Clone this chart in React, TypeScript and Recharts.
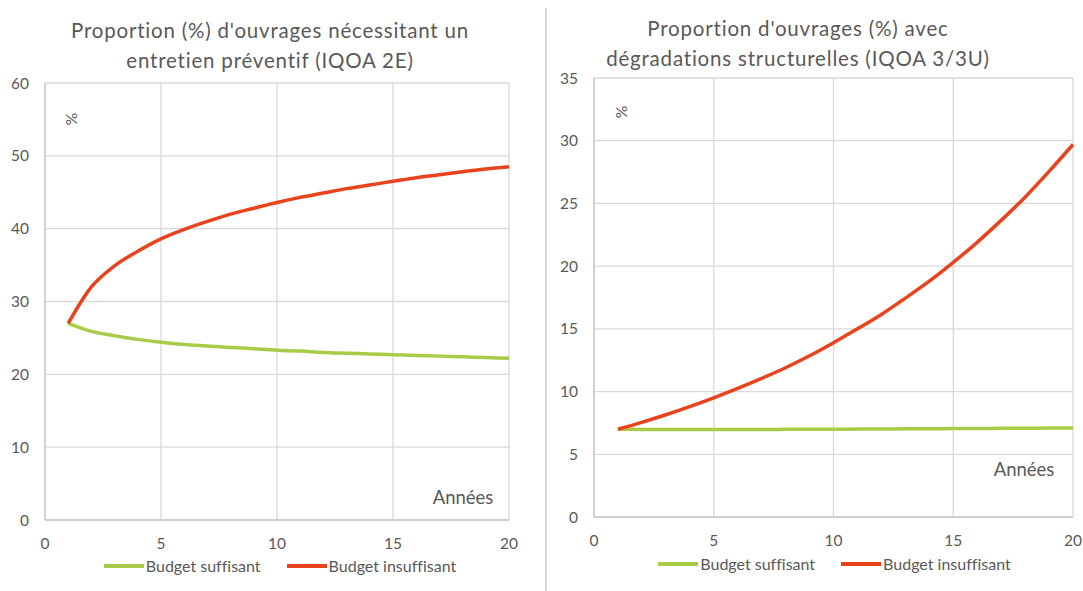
import React from 'react';
import { LineChart, Line, XAxis, YAxis, CartesianGrid, Legend } from 'recharts';

const years = [1, 2, 3, 4, 5, 6, 7, 8, 9, 10, 11, 12, 13, 14, 15, 16, 17, 18, 19, 20];
const leftSuffisant = [27.0, 25.9, 25.3, 24.8, 24.4, 24.1, 23.9, 23.7, 23.5, 23.3, 23.2, 23.0, 22.9, 22.8, 22.7, 22.6, 22.5, 22.4, 22.3, 22.2];
const leftInsuffisant = [27.0, 32.0, 34.9, 36.9, 38.6, 39.9, 41.0, 42.0, 42.8, 43.6, 44.3, 44.9, 45.5, 46.0, 46.5, 47.0, 47.4, 47.8, 48.2, 48.5];
const rightSuffisant = [7.0, 6.98, 6.97, 6.97, 6.97, 6.98, 6.98, 6.99, 7.0, 7.0, 7.01, 7.02, 7.03, 7.04, 7.05, 7.06, 7.07, 7.08, 7.09, 7.1];
const rightInsuffisant = [7.0, 7.55, 8.15, 8.8, 9.5, 10.25, 11.05, 11.9, 12.85, 13.9, 15.0, 16.15, 17.45, 18.8, 20.3, 21.9, 23.65, 25.5, 27.55, 29.7];

const xTicks = [0, 5, 10, 15, 20];
const leftYTicks = [0, 10, 20, 30, 40, 50, 60];
const rightYTicks = [0, 5, 10, 15, 20, 25, 30, 35];
const seriesNames = ['Budget suffisant', 'Budget insuffisant'];
const leftTitle = ["Proportion (%) d'ouvrages nécessitant un", 'entretien préventif (IQOA 2E)'];
const rightTitle = ["Proportion d'ouvrages (%) avec", 'dégradations structurelles (IQOA 3/3U)'];
const yUnit = '%';
const xUnit = 'Années';

const GREEN = '#a8cc48';
const RED = '#e8431c';
const TEXT = '#595959';
const GRID = '#d9d9d9';
const FONT = 'Lato, "Open Sans", sans-serif';

const leftData = years.map((y, i) => ({ year: y, suffisant: leftSuffisant[i], insuffisant: leftInsuffisant[i] }));
const rightData = years.map((y, i) => ({ year: y, suffisant: rightSuffisant[i], insuffisant: rightInsuffisant[i] }));

const tickStyle = { fill: TEXT, fontSize: 15.5, fontFamily: FONT };

const renderLegend = () => (
  <div
    style={{
      display: 'flex',
      justifyContent: 'center',
      fontFamily: FONT,
      fontSize: 16,
      color: TEXT,
      lineHeight: '18px',
      fontVariantLigatures: 'none',
    }}
  >
    {seriesNames.map((name, i) => (
      <div key={name} style={{ display: 'flex', alignItems: 'center', marginLeft: i === 0 ? 0 : 26 }}>
        <svg width={40} height={6} style={{ display: 'block' }}>
          <line x1={0} y1={3} x2={40} y2={3} stroke={i === 0 ? GREEN : RED} strokeWidth={4} />
        </svg>
        <span style={{ marginLeft: 2 }}>{name}</span>
      </div>
    ))}
  </div>
);

type PanelProps = {
  data: { year: number; suffisant: number; insuffisant: number }[];
  yTicks: number[];
  width: number;
  yAxisWidth: number;
  margin: { top: number; right: number; bottom: number; left: number };
  legendTop: number;
  legendLeft: number;
  legendWidth: number;
};

const Panel = ({ data, yTicks, width, yAxisWidth, margin, legendTop, legendLeft, legendWidth }: PanelProps) => (
  <LineChart width={width} height={591} data={data} margin={margin}>
    <CartesianGrid stroke={GRID} strokeWidth={1.3} />
    <XAxis
      dataKey="year"
      type="number"
      domain={[0, 20]}
      ticks={xTicks}
      interval={0}
      height={30}
      tickLine={false}
      axisLine={{ stroke: '#c6c6c6', strokeWidth: 1.6 }}
      tick={tickStyle}
      tickMargin={12}
    />
    <YAxis
      type="number"
      domain={[yTicks[0], yTicks[yTicks.length - 1]]}
      ticks={yTicks}
      interval={0}
      width={yAxisWidth}
      tickLine={false}
      axisLine={{ stroke: '#c6c6c6', strokeWidth: 1.3 }}
      tick={tickStyle}
      tickMargin={10}
    />
    <Legend
      verticalAlign="middle"
      align="center"
      layout="horizontal"
      content={renderLegend}
      wrapperStyle={{ top: legendTop, left: legendLeft, width: legendWidth, bottom: 'auto' }}
    />
    <Line type="monotone" dataKey="suffisant" name={seriesNames[0]} stroke={GREEN} strokeWidth={3.5} dot={false} isAnimationActive={false} />
    <Line type="monotone" dataKey="insuffisant" name={seriesNames[1]} stroke={RED} strokeWidth={3.5} dot={false} isAnimationActive={false} />
  </LineChart>
);

const titleStyle: React.CSSProperties = {
  position: 'absolute',
  fontFamily: FONT,
  fontSize: 20.5,
  letterSpacing: '0.8px',
  color: TEXT,
  textAlign: 'center',
  lineHeight: '30px',
  whiteSpace: 'nowrap',
  fontVariantLigatures: 'none',
};

const labelStyle: React.CSSProperties = {
  position: 'absolute',
  fontFamily: FONT,
  color: TEXT,
  whiteSpace: 'nowrap',
  fontVariantLigatures: 'none',
};

export default function App() {
  return (
    <div style={{ position: 'absolute', left: 0, top: 0, width: 1083, height: 591, background: '#fff', overflow: 'hidden' }}>
      <div style={{ position: 'absolute', left: 0, top: 0 }}>
        <Panel
          data={leftData}
          yTicks={leftYTicks}
          width={540}
          yAxisWidth={45}
          margin={{ top: 83, right: 31, bottom: 41, left: 0 }}
          legendTop={557}
          legendLeft={0}
          legendWidth={560}
        />
      </div>
      <div style={{ position: 'absolute', left: 548, top: 0 }}>
        <Panel
          data={rightData}
          yTicks={rightYTicks}
          width={535}
          yAxisWidth={46}
          margin={{ top: 78, right: 10, bottom: 44, left: 0 }}
          legendTop={555}
          legendLeft={0}
          legendWidth={573}
        />
      </div>
      <div style={{ position: 'absolute', left: 545, top: 8, width: 2, height: 583, background: GRID }} />
      <div style={{ ...titleStyle, left: 270, top: 15, transform: 'translateX(-50%)' }}>
        {leftTitle[0]}
        <br />
        {leftTitle[1]}
      </div>
      <div style={{ ...titleStyle, left: 798, top: 13, transform: 'translateX(-50%)' }}>
        {rightTitle[0]}
        <br />
        {rightTitle[1]}
      </div>
      <div style={{ ...labelStyle, fontSize: 16, left: 70, top: 119, transform: 'translate(-50%, -50%) rotate(-90deg)' }}>{yUnit}</div>
      <div style={{ ...labelStyle, fontSize: 16, left: 620, top: 112, transform: 'translate(-50%, -50%) rotate(-90deg)' }}>{yUnit}</div>
      <div style={{ ...labelStyle, fontSize: 18.5, left: 463, top: 497, transform: 'translate(-50%, -50%)' }}>{xUnit}</div>
      <div style={{ ...labelStyle, fontSize: 18.5, left: 1024, top: 469, transform: 'translate(-50%, -50%)' }}>{xUnit}</div>
    </div>
  );
}
